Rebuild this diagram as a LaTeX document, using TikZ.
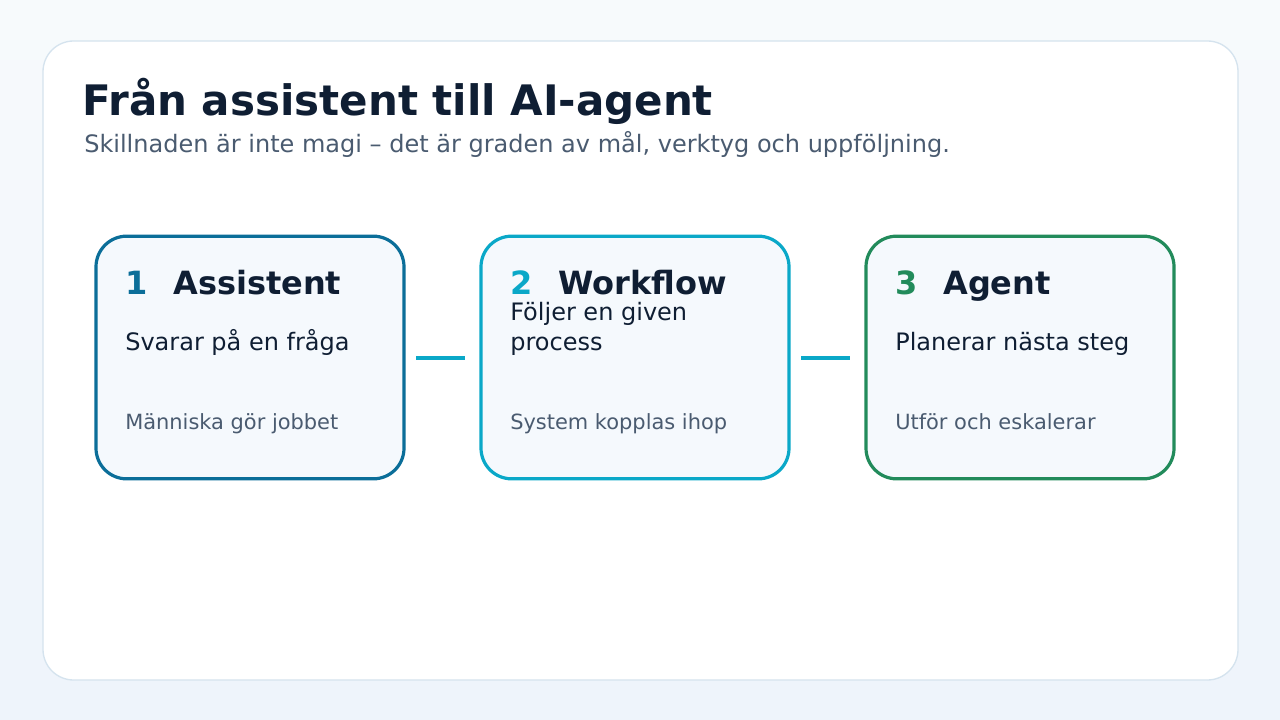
\documentclass[tikz,border=0pt]{standalone}
\usepackage{fontspec}
\setmainfont{DejaVu Sans}
\definecolor{ink}{HTML}{0F1E33}
\definecolor{muted}{HTML}{4A5B70}
\definecolor{cardline}{HTML}{D5E3EE}
\definecolor{boxfill}{HTML}{F5F9FD}
\definecolor{cblue}{HTML}{0B6E99}
\definecolor{ccyan}{HTML}{0AA8C8}
\definecolor{cgreen}{HTML}{228B5B}
\definecolor{bgtop}{HTML}{F7FAFC}
\definecolor{bgbot}{HTML}{EEF4FB}
\tikzset{
  step/.style={draw=#1,line width=2.4pt,fill=boxfill,rounded corners=23pt,minimum width=231pt,minimum height=182pt},
  num/.style={anchor=base west,text=#1,font=\fontsize{24}{28}\selectfont\bfseries},
  head/.style={anchor=base west,text=ink,font=\fontsize{24}{28}\selectfont\bfseries},
  desc/.style={anchor=base west,text=ink,font=\fontsize{18}{22.5}\selectfont,align=left},
  note/.style={anchor=base west,text=muted,font=\fontsize{15.7}{19}\selectfont},
  link/.style={draw=ccyan,line width=3pt}
}
\begin{document}
\begin{tikzpicture}[x=0.75pt,y=-0.75pt]
\useasboundingbox (0,0) rectangle (1280,720);
\shade[top color=bgtop,bottom color=bgbot] (0,0) rectangle (1280,720);
\draw[cardline,fill=white,line width=1pt,rounded corners=23pt] (43,41) rectangle (1238,680);
\node[anchor=base west,text=ink,font=\fontsize{31.5}{38}\selectfont\bfseries,inner sep=0] (title) at (82,116) {Från assistent till AI-agent};
\node[anchor=base west,text=muted,font=\fontsize{18}{22}\selectfont,inner sep=0] (sub) at (84,153) {Skillnaden är inte magi – det är graden av mål, verktyg och uppföljning.};
% steps
\node[step=cblue] (b1) at (250,357.5) {};
\node[step=ccyan] (b2) at (635,357.5) {};
\node[step=cgreen] (b3) at (1020,357.5) {};
\node[num=cblue,inner sep=0] (n1) at (125,294) {1};
\node[head,inner sep=0] (h1) at (173,294) {Assistent};
\node[desc,inner sep=0] (d1) at (125,350) {Svarar på en fråga};
\node[note,inner sep=0] (f1) at (125,429) {Människa gör jobbet};
\node[num=ccyan,inner sep=0] (n2) at (510,294) {2};
\node[head,inner sep=0] (h2) at (558,294) {Workflow};
\node[desc,inner sep=0] (d2) at (510,350) {Följer en given\\process};
\node[note,inner sep=0] (f2) at (510,429) {System kopplas ihop};
\node[num=cgreen,inner sep=0] (n3) at (895,294) {3};
\node[head,inner sep=0] (h3) at (943,294) {Agent};
\node[desc,inner sep=0] (d3) at (895,350) {Planerar nästa steg};
\node[note,inner sep=0] (f3) at (895,429) {Utför och eskalerar};
% links
\draw[link] ([xshift=8pt]b1.east) -- ([xshift=-11pt]b2.west);
\draw[link] ([xshift=8pt]b2.east) -- ([xshift=-11pt]b3.west);
\end{tikzpicture}
\end{document}
